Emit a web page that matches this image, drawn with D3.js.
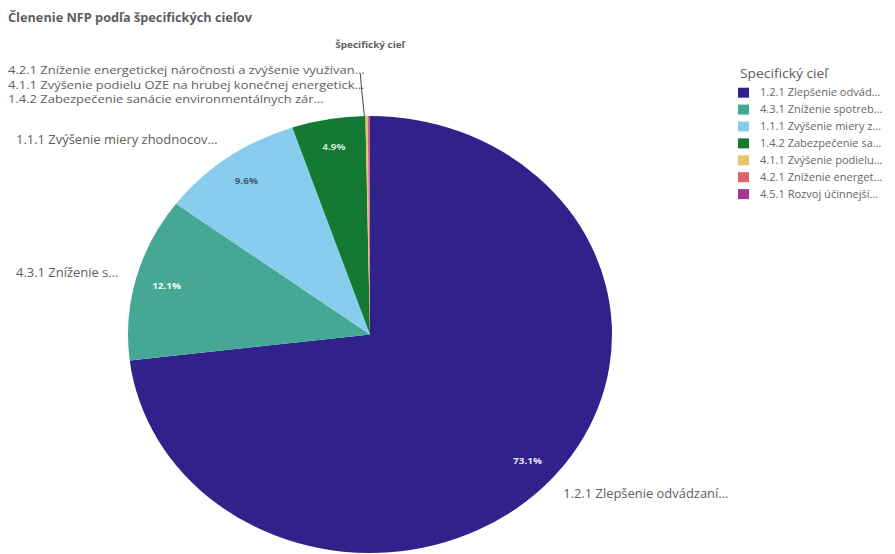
<!DOCTYPE html>
<html><head><meta charset="utf-8">
<script src="https://cdn.jsdelivr.net/npm/d3@7"></script>
<style>
html,body{margin:0;padding:0;background:#fff;}
text{font-family:"Open Sans",Lato,sans-serif;}
</style></head>
<body><svg id="c" width="895" height="554"></svg>
<script>
const categories = [
  "1.2.1 Zlepšenie odvádzaní…",
  "4.3.1 Zníženie s…",
  "1.1.1 Zvýšenie miery zhodnocov…",
  "1.4.2 Zabezpečenie sanácie environmentálnych zár…",
  "4.1.1 Zvýšenie podielu OZE na hrubej konečnej energetick…",
  "4.2.1 Zníženie energetickej náročnosti a zvýšenie využívan…",
  "4.5.1 Rozvoj účinnejších…"
];
const legendLabels = [
  "1.2.1 Zlepšenie odvád…",
  "4.3.1 Zníženie spotreb…",
  "1.1.1 Zvýšenie miery z…",
  "1.4.2 Zabezpečenie sa…",
  "4.1.1 Zvýšenie podielu…",
  "4.2.1 Zníženie energet…",
  "4.5.1 Rozvoj účinnejší…"
];
const values = [73.1, 12.1, 9.6, 4.9, 0.15, 0.1, 0.05];
const colors = ["#30228a", "#44a894", "#89cdee", "#147a33", "#e6c56c", "#d9626b", "#a53896"];
const pctLabels = ["73.1%", "12.1%", "9.6%", "4.9%", "", "", ""];
const pctColors = ["#e8e6f5", "#f2fbf8", "#3b5a78", "#cdeccf"];

const svg = d3.select("#c");
const grey = "#5e5e5e";
const sx = 1.107;
function txt(x, y, s, opts) {
  const gg = svg.append("g").attr("transform", `translate(${x},${y}) scale(${opts.sx || sx},1)`);
  const t = gg.append("text").attr("x", 0).attr("y", 0).attr("dy", "0.35em")
    .attr("font-size", opts.size).attr("fill", opts.fill || grey)
    .attr("font-weight", opts.bold ? 700 : 400)
    .attr("text-anchor", opts.anchor || "start").text(s);
  return t;
}
txt(8, 18, "Členenie NFP podľa špecifických cieľov", {size: 11.5, bold: true});
txt(370, 45, "Špecifický cieľ", {size: 9, bold: true, anchor: "middle"});

const cx = 370, cy = 334.5, r = 242, sy = 0.903;
const data = categories.map((c, i) => ({c, v: values[i], col: colors[i], pct: pctLabels[i], i}));
const pie = d3.pie().value(d => d.v).sort(null);
const arcs = pie(data);
const arc = d3.arc().innerRadius(0).outerRadius(r);
const g = svg.insert("g", ":first-child").attr("transform", `translate(${cx},${cy}) scale(1,${sy})`);
g.selectAll("path").data(arcs).join("path").attr("d", arc).attr("fill", d => d.data.col)
  .attr("stroke", "none");

function pt(a, rad) { return [cx + Math.sin(a) * rad, cy - Math.cos(a) * rad * sy]; }
const mid = d => (d.startAngle + d.endAngle) / 2;

// percentage labels
arcs.filter(d => d.data.pct).forEach(d => {
  const [x, y] = pt(mid(d), r * 0.87);
  txt(x, y, d.data.pct, {size: 9, bold: true, anchor: "middle", fill: pctColors[d.data.i]});
});

// outside labels for big slices
[0, 1, 2].forEach(i => {
  const d = arcs[i];
  const [x, y] = pt(mid(d), r * 1.1);
  const right = Math.sin(mid(d)) > 0;
  txt(right ? x - 6 : 16, y, d.data.c, {size: 11.7});
});

// stacked labels for small top slices
const stack = [5, 4, 3];
stack.forEach((i, k) => {
  txt(8, 70.5 + k * 14.6, arcs[i].data.c, {size: 10.5, sx: 1.233});
});
const topPt = pt(arcs[4].startAngle, r);
svg.append("path").attr("d", `M${topPt[0] - 1},${topPt[1]} L${topPt[0] - 4},${88} L${topPt[0] - 5},${74}`)
  .attr("fill", "none").attr("stroke", "#444").attr("stroke-width", 1);

// legend
txt(740, 74, "Specifický cieľ", {size: 12.5});
legendLabels.forEach((t, i) => {
  const y = 92.7 + i * 16.9;
  svg.append("rect").attr("x", 738).attr("y", y - 5).attr("width", 11).attr("height", 10).attr("fill", colors[i]);
  txt(760, y, t, {size: 10, fill: "#666"});
});
</script></body></html>
